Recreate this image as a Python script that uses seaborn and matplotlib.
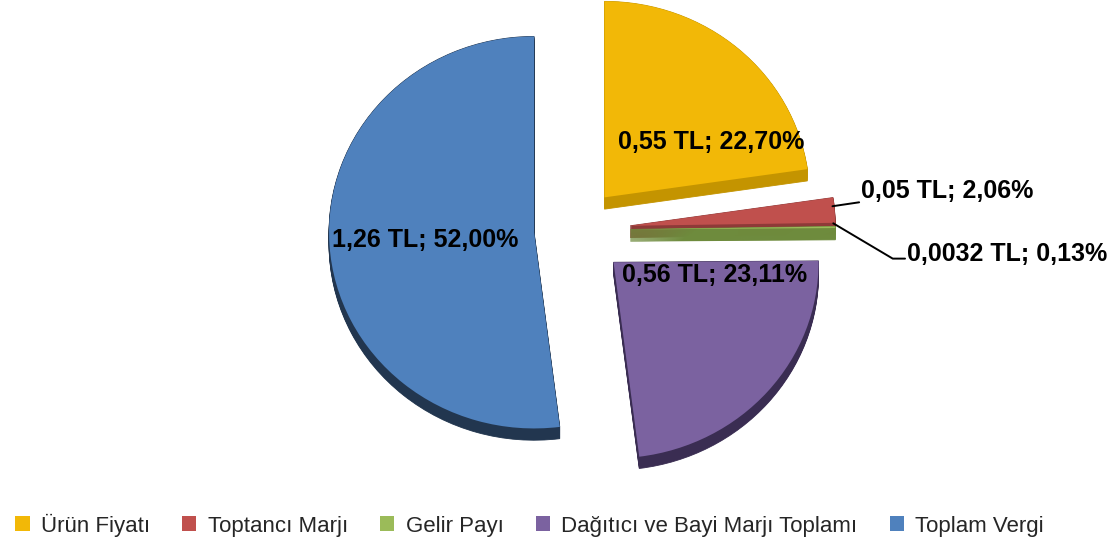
import numpy as np
import matplotlib
matplotlib.use("Agg")
import matplotlib.pyplot as plt
import seaborn as sns
from matplotlib.patches import Patch

# ---- data ----
categories = ["Ürün Fiyatı", "Toptancı Marjı", "Gelir Payı",
              "Dağıtıcı ve Bayi Marjı Toplamı", "Toplam Vergi"]
amounts_tl = ["0,55", "0,05", "0,0032", "0,56", "1,26"]
shares_pct = [22.70, 2.06, 0.13, 23.11, 52.00]

# ---- style ----
colors = ["#F2B807", "#C0504D", "#9BBB59", "#7B62A0", "#4F81BD"]
side_colors = ["#C49400", "#8E3A38", "#6E8B3D", "#3A2D52", "#22364F"]
explode = [0.22, 0.27, 0.27, 0.25, 0.20]
depth = 0.06

sns.set_theme(style="white")
plt.rcParams['font.family'] = ['Liberation Sans', 'DejaVu Sans']

fig = plt.figure(figsize=(11.17, 5.44), dpi=100)
ax = fig.add_axes([0, 0.0993, 1, 0.9007])

# 3D side faces: extrude each slice downwards
for t in np.linspace(depth, 0.0, 13):
    side, _ = ax.pie(shares_pct, explode=explode, startangle=90, counterclock=False,
                     colors=side_colors, center=(0, -t), radius=1,
                     wedgeprops=dict(linewidth=0.6))
    for k, w in enumerate(side):
        w.set_edgecolor(side_colors[k])
        w.set_zorder(1 + k * 0.1)

wedges, _ = ax.pie(shares_pct, explode=explode, startangle=90, counterclock=False,
                   colors=colors, radius=1, wedgeprops=dict(linewidth=0))
for w in wedges:
    w.set_zorder(3)

def fmt(amount, pct):
    return f"{amount} TL; {pct:.2f}%".replace(".", ",")

labels = [fmt(a, p) for a, p in zip(amounts_tl, shares_pct)]
lab_kw = dict(fontsize=18, fontweight="bold", color="black", zorder=5)

# inside labels (polar placement relative to pie centre: angle deg, radius)
inside = {0: (34, 0.80), 3: (-18.6, 0.72), 4: (184, 0.735)}
for i, (ang, r) in inside.items():
    a = np.deg2rad(ang)
    ax.text(r * np.cos(a), r * np.sin(a), labels[i], ha="center", va="center", **lab_kw)

def tip(i):
    w = wedges[i]
    mid = np.deg2rad((w.theta1 + w.theta2) / 2)
    cx, cy = w.center
    return cx + w.r * np.cos(mid), cy + w.r * np.sin(mid)

# outside label: Toptancı Marjı
tx, ty = tip(1)
ax.plot([tx - 0.01, tx + 0.12], [ty + 0.02, ty + 0.04], color="black", lw=1.4, zorder=4)
ax.text(tx + 0.13, ty + 0.10, labels[1], ha="left", va="center", **lab_kw)
# outside label: Gelir Payı
tx, ty = tip(2)
ax.plot([tx - 0.01, tx + 0.28, tx + 0.34], [ty + 0.02, ty - 0.16, ty - 0.16],
        color="black", lw=1.4, zorder=4)
ax.text(tx + 0.35, ty - 0.135, labels[2], ha="left", va="center", **lab_kw)

ax.set_aspect("auto")
ax.set_xlim(-575 / 205, 542 / 205)
ax.set_ylim(-(490 - 230) / 196, 230 / 196)
ax.axis("off")

handles = [Patch(facecolor=c, edgecolor="none") for c in colors]
fig.legend(handles, categories, loc="center", bbox_to_anchor=(0.474, 0.035),
           ncol=5, frameon=False, fontsize=16, handlelength=0.65, handleheight=0.65,
           handletextpad=0.5, columnspacing=1.45)

fig.savefig("out.png", dpi=100, facecolor="white")
